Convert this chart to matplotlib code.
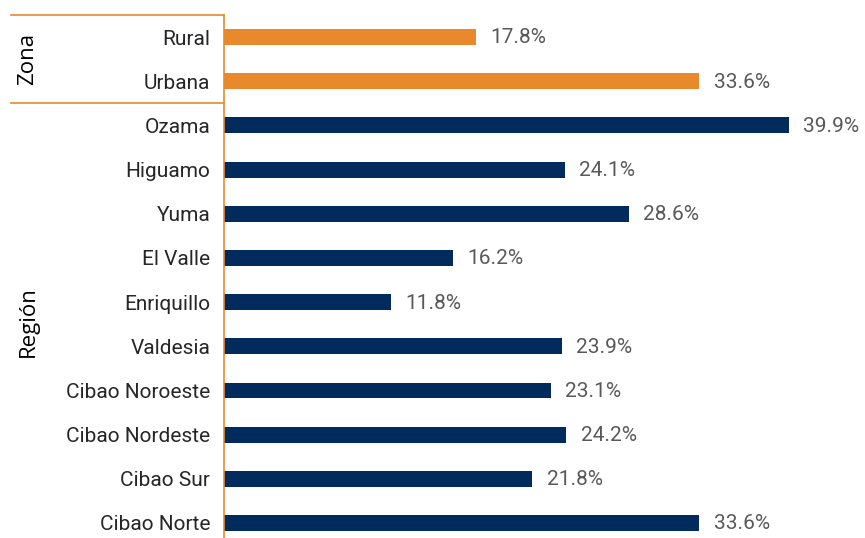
import matplotlib.pyplot as plt

plt.rcParams['font.family'] = ['Roboto', 'DejaVu Sans']

categories = ['Rural', 'Urbana', 'Ozama', 'Higuamo', 'Yuma', 'El Valle', 'Enriquillo',
              'Valdesia', 'Cibao Noroeste', 'Cibao Nordeste', 'Cibao Sur', 'Cibao Norte']
values = [17.8, 33.6, 39.9, 24.1, 28.6, 16.2, 11.8, 23.9, 23.1, 24.2, 21.8, 33.6]
groups = ['Zona', 'Zona'] + ['Región'] * 10

ORANGE = '#E8892B'
NAVY = '#002B5C'
colors = [ORANGE if g == 'Zona' else NAVY for g in groups]

fig = plt.figure(figsize=(8.65, 5.38), dpi=100)
ax = fig.add_axes([224 / 865, 0, (865 - 224) / 865, (538 - 15) / 538])

ypos = list(range(len(categories)))
ax.barh(ypos, values, height=0.36, color=colors)
for y, v in zip(ypos, values):
    ax.text(v + 1.0, y + 0.02, f'{v:.1f}%', va='center', ha='left', fontsize=15,
            color='#595959')

ax.set_xlim(0, 45.3)
ax.set_ylim(11.34, -0.5)
ax.set_yticks(ypos)
ax.set_yticklabels(categories, fontsize=15, color='#262626')
ax.tick_params(axis='y', length=0, pad=10)
ax.set_xticks([])
for side in ['top', 'right', 'bottom']:
    ax.spines[side].set_visible(False)
ax.spines['left'].set_color(ORANGE)
ax.spines['left'].set_linewidth(1.2)

# group brackets on the left
line_kw = dict(color=ORANGE, linewidth=1.2, transform=fig.transFigure)
fig.add_artist(plt.Line2D([11 / 865, 224 / 865], [1 - 15 / 538, 1 - 15 / 538], **line_kw))
fig.add_artist(plt.Line2D([11 / 865, 224 / 865], [1 - 103 / 538, 1 - 103 / 538], **line_kw))

fig.text(28 / 865, 1 - 59 / 538, 'Zona', rotation=90, va='center', ha='center',
         fontsize=16, color='black', family=['Open Sans', 'DejaVu Sans'])
fig.text(28 / 865, 1 - 322 / 538, 'Región', rotation=90, va='center', ha='center',
         fontsize=16, color='black', family=['Open Sans', 'DejaVu Sans'])

fig.savefig('out.png', dpi=100)
